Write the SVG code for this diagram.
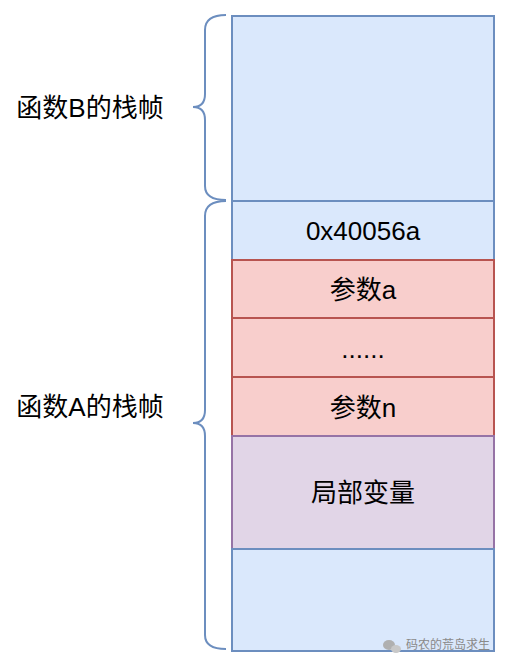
<svg xmlns="http://www.w3.org/2000/svg" width="506" height="669" viewBox="0 0 506 669">
<style>
.t{font-family:"Liberation Sans","Noto Sans CJK SC",sans-serif;font-size:26px;fill:#000;text-anchor:middle}
.blue{fill:#dae8fc;stroke:#6c8ebf;stroke-width:2}
.red{fill:#f8cecc;stroke:#b85450;stroke-width:2}
.purple{fill:#e1d5e7;stroke:#9673a6;stroke-width:2}
.brace{fill:none;stroke:#6c8ebf;stroke-width:2}
.wm{font-family:"Noto Sans CJK SC",sans-serif;font-size:12px;fill:#8a8a8a;text-anchor:end}
</style>
<rect width="506" height="669" fill="#fff"/>
<g id="frameB"><rect class="blue" x="232" y="16" width="262" height="185"/></g>
<g id="retaddr"><rect class="blue" x="232" y="201" width="262" height="59"/><text class="t" x="363" y="240">0x40056a</text></g>
<g id="argA"><rect class="red" x="232" y="260" width="262" height="58"/><text class="t" x="363" y="299">参数a</text></g>
<g id="dots"><rect class="red" x="232" y="318" width="262" height="59"/><text class="t" x="363" y="358">......</text></g>
<g id="argN"><rect class="red" x="232" y="377" width="262" height="59"/><text class="t" x="363" y="417">参数n</text></g>
<g id="locals"><rect class="purple" x="232" y="436" width="262" height="113"/><text class="t" x="363" y="502">局部变量</text></g>
<g id="frameAbottom"><rect class="blue" x="232" y="549" width="262" height="102"/></g>
<g id="connectors">
<path class="brace" d="M226,15 Q205,15 205,30 L205,94 Q205,107 193,107 Q205,107 205,120 L205,186 Q205,200 226,200"/>
<path class="brace" d="M226,201 Q205,201 205,216 L205,410 Q205,423 193,423 Q205,423 205,436 L205,635 Q205,649 226,649"/>
</g>
<g id="labelB"><text class="t" x="90" y="117">函数B的栈帧</text></g>
<g id="labelA"><text class="t" x="90" y="416">函数A的栈帧</text></g>
<g id="watermark">
<ellipse cx="389" cy="645" rx="6" ry="5" fill="#b0b0b0"/>
<ellipse cx="396" cy="649" rx="5" ry="4" fill="#c8c8c8"/>
<text class="wm" x="490" y="649">码农的荒岛求生</text>
</g>
</svg>
